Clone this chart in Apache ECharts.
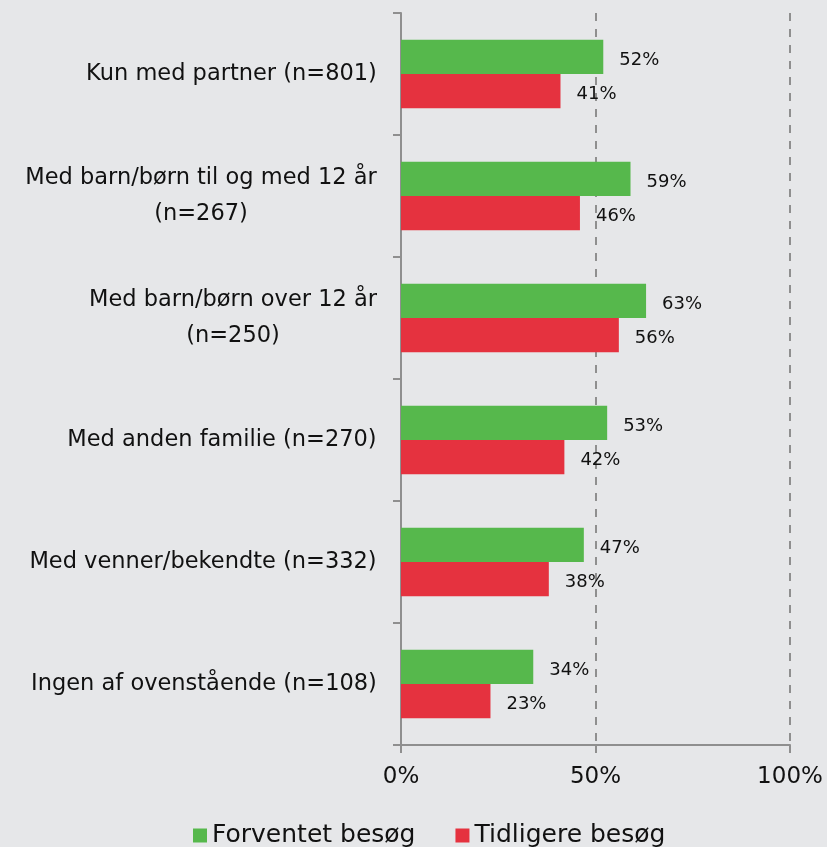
<!DOCTYPE html>
<html>
<head>
<meta charset="utf-8">
<script src="https://cdn.jsdelivr.net/npm/echarts@6/dist/echarts.min.js"></script>
<style>
  html, body { margin: 0; padding: 0; background: #e6e7e9; }
  #chart { width: 827px; height: 847px; }
</style>
</head>
<body>
<div id="chart"></div>
<script>
// Survey groups (sample sizes in parentheses)
const categories = [
  'Kun med partner (n=801)',
  'Med barn/børn til og med 12 år\n(n=267)',
  'Med barn/børn over 12 år\n(n=250)',
  'Med anden familie (n=270)',
  'Med venner/bekendte (n=332)',
  'Ingen af ovenstående (n=108)'
];
const expectedVisit = [52, 59, 63, 53, 47, 34];   // Forventet besøg
const previousVisit = [41, 46, 56, 42, 38, 23];   // Tidligere besøg
const xTicks = [0, 50, 100];

const font = '"DejaVu Sans", sans-serif';
const axisGrey = '#8f8f8f';
const catFontSize = 22.5;
const catLineHeight = 36;

// Multi-line category labels are right-aligned as a block, with lines centred
// inside it: give each one a rich box as wide as its longest line.
const measureCtx = document.createElement('canvas').getContext('2d');
measureCtx.font = catFontSize + 'px ' + font;
const richStyles = {};
categories.forEach((c, i) => {
  const w = Math.ceil(Math.max(...c.split('\n').map(s => measureCtx.measureText(s).width)));
  richStyles['c' + i] = {
    width: w, align: 'center', fontSize: catFontSize, lineHeight: catLineHeight,
    color: '#111', fontFamily: font
  };
});

const valueLabel = {
  show: true, position: 'right', distance: 16, offset: [0, 3],
  fontSize: 18, color: '#111', fontFamily: font,
  formatter: p => p.value + '%'
};

const chart = echarts.init(document.getElementById('chart'));
chart.setOption({
  backgroundColor: '#e6e7e9',
  textStyle: { fontFamily: font },
  grid: { left: 401, right: 37, top: 13, bottom: 102, containLabel: false },
  legend: {
    top: 818,
    left: 188,
    itemWidth: 14,
    itemHeight: 14,
    itemGap: 40,
    icon: 'rect',
    textStyle: { fontSize: 25, color: '#111', fontFamily: font },
    data: ['Forventet besøg', 'Tidligere besøg']
  },
  xAxis: {
    type: 'value',
    min: 0,
    max: 100,
    interval: 50,
    axisLine: { show: true, lineStyle: { color: axisGrey, width: 2 } },
    axisTick: { show: true, length: 8, lineStyle: { color: axisGrey, width: 2 } },
    axisLabel: {
      fontSize: 23, color: '#111', margin: 21, fontFamily: font,
      formatter: v => xTicks.includes(v) ? v + '%' : ''
    },
    splitLine: { show: true, lineStyle: { color: axisGrey, width: 2, type: [8, 8] } }
  },
  yAxis: {
    type: 'category',
    inverse: true,
    data: categories,
    axisLine: { show: true, lineStyle: { color: axisGrey, width: 2 } },
    axisTick: { show: true, length: 8, lineStyle: { color: axisGrey, width: 2 } },
    axisLabel: {
      fontSize: catFontSize, color: '#111', margin: 24, fontFamily: font,
      align: 'right', lineHeight: catLineHeight,
      formatter: (v, i) => v.split('\n').map(s => '{c' + i + '|' + s + '}').join('\n'),
      rich: richStyles
    }
  },
  series: [
    {
      name: 'Forventet besøg',
      type: 'bar',
      data: expectedVisit,
      barGap: '0%',
      barCategoryGap: '44%',
      itemStyle: { color: '#56b84c' },
      label: valueLabel
    },
    {
      name: 'Tidligere besøg',
      type: 'bar',
      data: previousVisit,
      barGap: '0%',
      barCategoryGap: '44%',
      itemStyle: { color: '#e5323f' },
      label: valueLabel
    }
  ]
});
</script>
</body>
</html>
